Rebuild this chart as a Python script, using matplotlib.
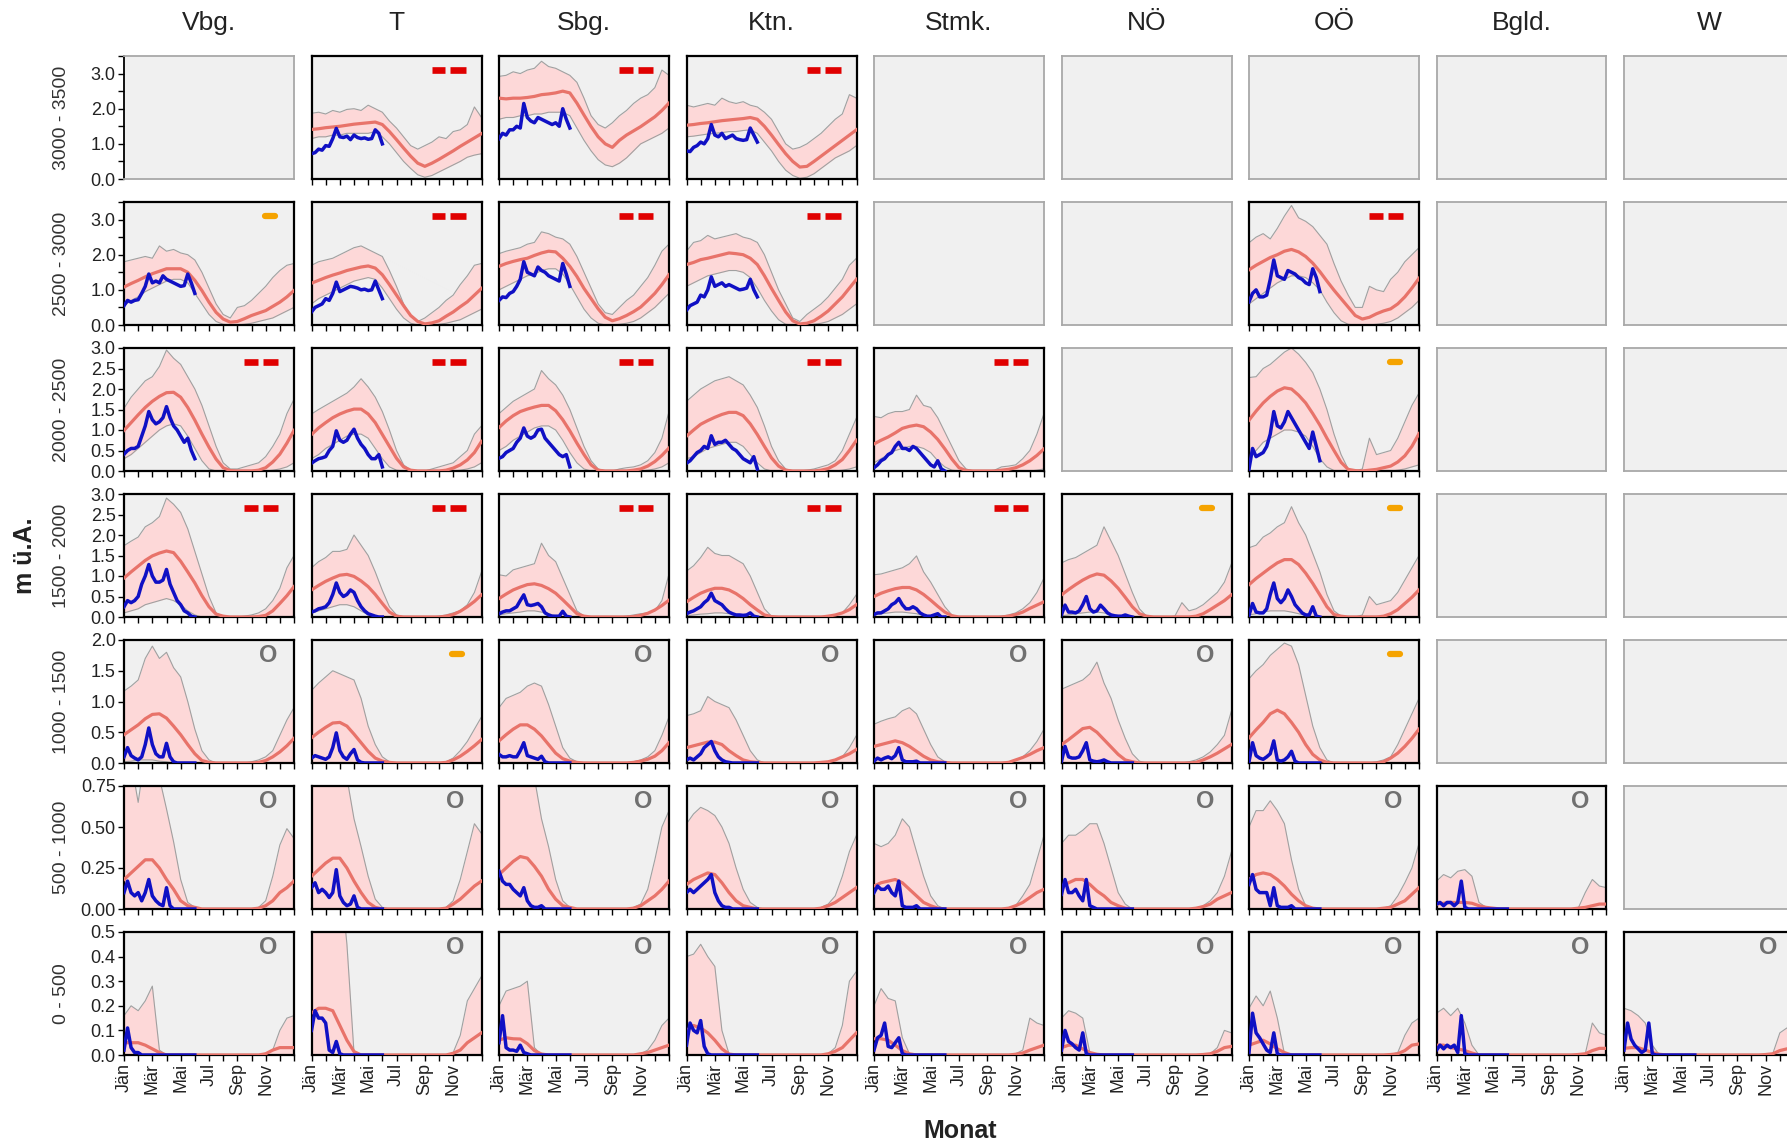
import numpy as np
import matplotlib
matplotlib.use('Agg')
import matplotlib.pyplot as plt

plt.rcParams['font.family'] = ['Liberation Sans', 'DejaVu Sans']

# ---------------- labels ----------------
REGIONS = ['Vbg.', 'T', 'Sbg.', 'Ktn.', 'Stmk.', 'NÖ', 'OÖ', 'Bgld.', 'W']
BANDS = ['3000 - 3500', '2500 - 3000', '2000 - 2500', '1500 - 2000',
         '1000 - 1500', '500 - 1000', '0 - 500']
MONTH_LABELS = ['Jän', '', 'Mär', '', 'Mai', '', 'Jul', '', 'Sep', '', 'Nov', '', '']
Y_MAX = [3.5, 3.5, 3.0, 3.0, 2.0, 0.75, 0.5]
Y_TICKS = [[0, 0.5, 1, 1.5, 2, 2.5, 3, 3.5],
           [0, 0.5, 1, 1.5, 2, 2.5, 3, 3.5],
           [0, 0.5, 1, 1.5, 2, 2.5, 3],
           [0, 0.5, 1, 1.5, 2, 2.5, 3],
           [0, 0.5, 1, 1.5, 2],
           [0, 0.25, 0.5, 0.75],
           [0, 0.1, 0.2, 0.3, 0.4, 0.5]]
Y_TICKLABELS = [['0.0', '', '1.0', '', '2.0', '', '3.0', ''],
                ['0.0', '', '1.0', '', '2.0', '', '3.0', ''],
                ['0.0', '0.5', '1.0', '1.5', '2.0', '2.5', '3.0'],
                ['0.0', '0.5', '1.0', '1.5', '2.0', '2.5', '3.0'],
                ['0.0', '0.5', '1.0', '1.5', '2.0'],
                ['0.00', '0.25', '0.50', '0.75'],
                ['0.0', '0.1', '0.2', '0.3', '0.4', '0.5']]

# status symbol per panel: r = two red bars, o = orange bar, n = grey "O"
STATUS = [
    ['', 'r', 'r', 'r', '', '', '', '', ''],
    ['o', 'r', 'r', 'r', '', '', 'r', '', ''],
    ['r', 'r', 'r', 'r', 'r', '', 'o', '', ''],
    ['r', 'r', 'r', 'r', 'r', 'o', 'o', '', ''],
    ['n', 'o', 'n', 'n', 'n', 'n', 'o', '', ''],
    ['n', 'n', 'n', 'n', 'n', 'n', 'n', 'n', ''],
    ['n', 'n', 'n', 'n', 'n', 'n', 'n', 'n', 'n'],
]

# time grids (months since 1 Jan): climatology every half month, current season weekly
XB = np.linspace(0, 12, 25)
XO = np.linspace(0, 5, 21)

ZERO = [0.0] * 25

# ---------------- row 1: 3000 - 3500 ----------------
t1_mean = [1.41,1.43,1.46,1.48,1.50,1.53,1.56,1.58,1.60,1.62,1.55,1.35,1.12,0.88,0.65,0.45,0.36,0.45,0.56,0.68,0.80,0.93,1.05,1.17,1.29]
t1_up = [1.87,1.90,1.85,1.95,1.90,1.98,2.00,1.95,2.10,2.00,1.90,1.65,1.45,1.20,0.95,0.85,0.95,1.05,1.20,1.15,1.35,1.40,1.55,2.05,1.75]
t1_lo = [1.15,1.20,1.20,1.25,1.25,1.30,1.30,1.30,1.30,1.35,1.20,1.00,0.75,0.50,0.30,0.12,0.05,0.10,0.20,0.30,0.40,0.50,0.62,0.68,0.72]
t1_obs = [0.72,0.75,0.85,0.82,0.95,0.93,1.15,1.44,1.20,1.18,1.22,1.12,1.25,1.18,1.15,1.17,1.13,1.15,1.40,1.30,1.00]

sbg1_mean = [2.30,2.28,2.30,2.30,2.32,2.35,2.40,2.42,2.45,2.50,2.45,2.16,1.82,1.49,1.20,1.00,0.90,1.10,1.25,1.37,1.49,1.63,1.77,1.95,2.16]
sbg1_up = [2.92,2.95,3.05,3.00,3.10,3.15,3.35,3.20,3.15,3.05,2.95,2.75,2.30,1.80,1.55,1.45,1.60,1.80,1.95,2.15,2.30,2.40,2.60,3.10,2.95]
sbg1_lo = [1.70,1.75,1.75,1.80,1.80,1.85,1.85,1.90,1.90,1.90,1.80,1.45,1.10,0.80,0.55,0.40,0.35,0.45,0.60,0.80,1.00,1.10,1.20,1.30,1.45]
sbg1_obs = [1.15,1.30,1.25,1.40,1.40,1.50,1.45,2.15,1.75,1.65,1.60,1.75,1.70,1.65,1.60,1.55,1.60,1.50,2.00,1.70,1.45]

ktn1_mean = [1.53,1.55,1.58,1.60,1.63,1.66,1.68,1.70,1.72,1.75,1.70,1.50,1.25,0.98,0.72,0.50,0.34,0.36,0.50,0.65,0.80,0.95,1.10,1.25,1.40]
ktn1_up = [2.10,2.05,2.10,2.15,2.10,2.30,2.20,2.15,2.20,2.10,2.05,1.90,1.70,1.35,1.00,0.85,0.90,1.00,1.15,1.30,1.50,1.70,1.85,2.40,2.30]
ktn1_lo = [1.20,1.22,1.25,1.28,1.30,1.32,1.35,1.35,1.38,1.40,1.30,1.05,0.80,0.50,0.25,0.10,0.02,0.05,0.15,0.30,0.45,0.60,0.70,0.80,0.95]
ktn1_obs = [0.80,0.78,0.90,0.95,1.05,1.00,1.15,1.55,1.25,1.20,1.30,1.15,1.20,1.25,1.15,1.12,1.10,1.12,1.45,1.25,1.05]

# ---------------- row 2: 2500 - 3000 ----------------
vbg2_mean = [1.08,1.18,1.27,1.37,1.46,1.53,1.60,1.60,1.60,1.50,1.27,0.98,0.65,0.36,0.17,0.08,0.10,0.18,0.27,0.34,0.41,0.53,0.65,0.80,0.98]
vbg2_up = [1.80,1.85,1.90,1.95,1.90,2.25,2.10,2.15,2.05,2.00,1.85,1.50,1.05,0.60,0.30,0.20,0.50,0.55,0.70,0.90,1.10,1.35,1.55,1.70,1.75]
vbg2_lo = [0.55,0.70,0.80,0.95,1.05,1.15,1.25,1.30,1.30,1.20,0.90,0.60,0.30,0.10,0.02,0.00,0.00,0.02,0.05,0.10,0.15,0.20,0.30,0.40,0.50]
vbg2_obs = [0.55,0.70,0.65,0.70,0.72,0.90,1.10,1.45,1.20,1.25,1.20,1.40,1.30,1.25,1.20,1.15,1.10,1.12,1.45,1.20,0.90]

t2_mean = [1.19,1.27,1.35,1.42,1.48,1.55,1.60,1.65,1.68,1.62,1.43,1.15,0.85,0.55,0.27,0.10,0.03,0.06,0.12,0.25,0.37,0.52,0.66,0.85,1.04]
t2_up = [1.70,1.80,1.85,1.90,2.00,2.10,2.20,2.25,2.15,2.05,1.95,1.55,1.10,0.60,0.25,0.10,0.20,0.35,0.50,0.70,0.85,1.15,1.40,1.70,1.75]
t2_lo = [0.60,0.75,0.85,0.95,1.05,1.15,1.25,1.30,1.35,1.30,1.05,0.75,0.45,0.20,0.05,0,0,0,0.02,0.05,0.10,0.15,0.25,0.35,0.45]
t2_obs = [0.37,0.50,0.55,0.60,0.75,0.70,0.90,1.22,0.95,1.00,1.05,1.10,1.08,1.05,1.00,1.02,0.98,1.00,1.25,1.00,0.75]

sbg2_mean = [1.67,1.75,1.81,1.86,1.90,1.98,2.05,2.10,2.08,1.90,1.67,1.38,1.04,0.75,0.46,0.22,0.12,0.18,0.27,0.38,0.51,0.70,0.90,1.15,1.43]
sbg2_up = [2.03,2.10,2.15,2.20,2.30,2.35,2.65,2.60,2.50,2.45,2.30,1.95,1.50,1.05,0.60,0.35,0.30,0.50,0.70,0.85,1.10,1.35,1.70,2.10,2.30]
sbg2_lo = [1.00,1.10,1.20,1.30,1.40,1.45,1.55,1.60,1.60,1.45,1.15,0.80,0.45,0.20,0.05,0,0,0.02,0.05,0.10,0.20,0.35,0.50,0.70,0.90]
sbg2_obs = [0.70,0.80,0.78,0.90,0.95,1.10,1.30,1.80,1.50,1.45,1.40,1.65,1.55,1.50,1.40,1.35,1.30,1.25,1.75,1.45,1.10]

ktn2_mean = [1.72,1.78,1.86,1.90,1.95,2.00,2.05,2.03,2.00,1.90,1.72,1.40,1.04,0.70,0.37,0.12,0.03,0.05,0.12,0.25,0.40,0.60,0.80,1.05,1.30]
ktn2_up = [2.10,2.35,2.40,2.55,2.45,2.50,2.55,2.60,2.50,2.45,2.35,2.00,1.50,1.00,0.60,0.20,0.10,0.30,0.45,0.60,0.80,1.05,1.30,1.70,1.90]
ktn2_lo = [1.10,1.20,1.30,1.40,1.45,1.50,1.55,1.55,1.50,1.35,1.05,0.70,0.40,0.15,0.02,0,0,0,0.02,0.05,0.10,0.20,0.30,0.45,0.60]
ktn2_obs = [0.42,0.55,0.60,0.65,0.85,0.80,1.00,1.37,1.10,1.15,1.20,1.10,1.15,1.10,1.05,1.00,1.02,1.05,1.30,1.00,0.80]

ooe2_mean = [1.57,1.70,1.81,1.92,2.00,2.10,2.15,2.08,1.95,1.76,1.52,1.25,0.99,0.75,0.51,0.27,0.17,0.22,0.32,0.40,0.46,0.60,0.80,1.05,1.33]
ooe2_up = [2.34,2.50,2.60,2.45,2.75,3.10,3.40,3.05,2.95,2.80,2.55,2.30,1.75,1.25,0.85,0.50,0.50,1.10,1.00,0.95,1.30,1.50,1.80,2.00,2.20]
ooe2_lo = [0.60,0.75,0.90,1.05,1.20,1.30,1.40,1.40,1.35,1.20,1.00,0.65,0.35,0.12,0.02,0,0,0,0.02,0.05,0.10,0.20,0.35,0.50,0.70]
ooe2_obs = [0.66,0.90,1.00,0.80,0.80,0.85,1.30,1.85,1.40,1.35,1.30,1.55,1.50,1.45,1.35,1.30,1.20,1.15,1.60,1.35,0.95]

# ---------------- row 3: 2000 - 2500 ----------------
vbg3_mean = [0.99,1.18,1.37,1.55,1.70,1.82,1.91,1.92,1.80,1.55,1.24,0.90,0.58,0.29,0.08,0.01,0,0,0,0.02,0.08,0.22,0.41,0.68,0.99]
vbg3_up = [1.53,1.80,2.00,2.20,2.30,2.55,2.95,2.75,2.60,2.30,2.00,1.60,1.10,0.60,0.20,0.05,0.05,0.10,0.15,0.20,0.35,0.60,0.90,1.40,1.75]
vbg3_lo = [0.30,0.40,0.55,0.70,0.85,1.00,1.10,1.15,1.10,0.85,0.55,0.25,0.05,0,0,0,0,0,0,0,0,0.02,0.05,0.10,0.20]
vbg3_obs = [0.41,0.50,0.55,0.55,0.60,0.85,1.10,1.45,1.25,1.15,1.20,1.30,1.57,1.30,1.10,1.00,0.85,0.70,0.80,0.50,0.30]

t3_mean = [0.89,1.05,1.18,1.30,1.39,1.46,1.51,1.51,1.39,1.18,0.89,0.60,0.31,0.10,0.02,0,0,0,0,0.02,0.07,0.15,0.27,0.45,0.72]
t3_up = [1.39,1.50,1.60,1.70,1.80,1.90,2.05,2.25,2.05,1.80,1.45,1.00,0.50,0.15,0.02,0,0,0.05,0.10,0.15,0.20,0.35,0.50,0.90,1.10]
t3_lo = [0.30,0.40,0.55,0.65,0.75,0.85,0.90,0.90,0.80,0.55,0.30,0.10,0.02,0,0,0,0,0,0,0,0,0.02,0.05,0.10,0.20]
t3_obs = [0.19,0.25,0.30,0.32,0.35,0.50,0.60,0.98,0.75,0.70,0.75,0.90,1.02,0.80,0.65,0.55,0.40,0.30,0.30,0.40,0.10]

sbg3_mean = [1.06,1.22,1.35,1.45,1.51,1.56,1.60,1.60,1.47,1.25,0.98,0.68,0.40,0.15,0.02,0,0,0,0,0.02,0.05,0.12,0.23,0.38,0.56]
sbg3_up = [1.40,1.55,1.70,1.80,1.90,2.00,2.45,2.25,2.10,1.85,1.50,1.05,0.60,0.25,0.05,0,0,0.05,0.08,0.10,0.15,0.25,0.45,0.80,1.45]
sbg3_lo = [0.50,0.60,0.75,0.85,0.95,1.05,1.10,1.10,1.00,0.75,0.45,0.20,0.05,0,0,0,0,0,0,0,0,0.02,0.05,0.10,0.20]
sbg3_obs = [0.31,0.35,0.45,0.50,0.55,0.70,0.80,1.05,0.85,0.80,0.85,1.00,1.02,0.80,0.70,0.60,0.50,0.40,0.35,0.40,0.10]

ktn3_mean = [0.85,1.00,1.14,1.23,1.31,1.38,1.43,1.43,1.35,1.15,0.89,0.60,0.32,0.12,0.02,0,0,0,0,0.02,0.06,0.15,0.28,0.50,0.75]
ktn3_up = [1.70,1.85,2.00,2.10,2.20,2.25,2.30,2.20,2.10,1.85,1.55,1.10,0.60,0.25,0.05,0,0,0.02,0.05,0.10,0.15,0.25,0.50,0.90,1.30]
ktn3_lo = [0.30,0.35,0.45,0.55,0.60,0.65,0.70,0.70,0.60,0.40,0.20,0.05,0,0,0,0,0,0,0,0,0,0,0.02,0.05,0.10]
ktn3_obs = [0.19,0.25,0.35,0.45,0.50,0.60,0.55,0.86,0.65,0.70,0.70,0.75,0.65,0.55,0.50,0.40,0.30,0.25,0.20,0.35,0.05]

stmk3_mean = [0.66,0.75,0.83,0.93,1.04,1.09,1.12,1.08,0.95,0.77,0.54,0.29,0.08,0.01,0,0,0,0,0.02,0.04,0.08,0.15,0.25,0.38,0.54]
stmk3_up = [1.33,1.30,1.40,1.45,1.45,1.50,1.85,1.60,1.55,1.30,0.95,0.60,0.25,0.05,0,0,0,0.02,0.10,0.12,0.15,0.30,0.50,0.90,1.40]
stmk3_lo = [0.20,0.30,0.40,0.50,0.55,0.60,0.60,0.55,0.45,0.25,0.10,0.02,0,0,0,0,0,0,0,0,0,0,0,0.02,0.05]
stmk3_obs = [0.08,0.15,0.25,0.30,0.40,0.45,0.60,0.70,0.55,0.55,0.50,0.60,0.55,0.45,0.35,0.25,0.15,0.10,0.25,0.05,0]

ooe3_mean = [1.24,1.46,1.66,1.82,1.95,2.03,2.00,1.85,1.66,1.40,1.12,0.80,0.50,0.21,0.04,0.01,0,0.02,0.04,0.08,0.12,0.22,0.37,0.60,0.91]
ooe3_up = [2.28,2.30,2.50,2.60,2.75,2.90,3.00,2.85,2.65,2.40,2.00,1.50,0.90,0.40,0.05,0,0.05,0.80,0.40,0.45,0.50,0.80,1.20,1.60,1.90]
ooe3_lo = [0.35,0.50,0.70,0.80,0.90,1.00,1.00,0.95,0.85,0.60,0.30,0.10,0.01,0,0,0,0,0,0,0,0,0.02,0.05,0.10,0.15]
ooe3_obs = [0.05,0.55,0.35,0.40,0.45,0.60,0.90,1.45,1.10,1.05,1.20,1.45,1.30,1.15,1.00,0.85,0.70,0.55,0.95,0.60,0.25]

# ---------------- row 4: 1500 - 2000 ----------------
vbg4_mean = [0.95,1.10,1.24,1.38,1.49,1.56,1.61,1.57,1.36,1.10,0.83,0.52,0.25,0.07,0.02,0,0,0,0,0.01,0.04,0.15,0.33,0.52,0.74]
vbg4_up = [1.74,1.85,1.95,2.20,2.30,2.45,2.90,2.75,2.55,2.15,1.60,1.05,0.50,0.10,0.02,0,0,0.02,0.05,0.10,0.20,0.40,0.70,1.20,1.50]
vbg4_lo = [0.10,0.15,0.20,0.30,0.35,0.40,0.45,0.40,0.30,0.15,0.05,0,0,0,0,0,0,0,0,0,0,0,0,0,0.02]
vbg4_obs = [0.25,0.40,0.35,0.40,0.50,0.80,1.00,1.28,1.00,0.85,0.85,0.90,1.16,0.80,0.60,0.40,0.30,0.15,0.10,0.02,0]

t4_mean = [0.66,0.77,0.87,0.95,1.02,1.04,0.99,0.88,0.74,0.55,0.33,0.12,0.02,0,0,0,0,0,0,0.02,0.06,0.14,0.25,0.38,0.54]
t4_up = [1.20,1.35,1.45,1.60,1.60,1.65,2.00,1.75,1.50,1.10,0.65,0.25,0.05,0,0,0,0,0,0.02,0.05,0.10,0.15,0.30,0.60,1.10]
t4_lo = [0.10,0.15,0.20,0.25,0.30,0.30,0.25,0.15,0.05,0,0,0,0,0,0,0,0,0,0,0,0,0,0,0,0]
t4_obs = [0.12,0.15,0.20,0.22,0.25,0.35,0.55,0.83,0.60,0.50,0.55,0.66,0.60,0.40,0.25,0.15,0.08,0.05,0.02,0,0]

sbg4_mean = [0.45,0.56,0.66,0.73,0.79,0.81,0.77,0.69,0.58,0.42,0.25,0.08,0.02,0,0,0,0,0,0,0.01,0.04,0.09,0.17,0.28,0.41]
sbg4_up = [1.03,1.00,1.15,1.20,1.25,1.30,1.80,1.50,1.35,0.95,0.55,0.15,0.02,0,0,0,0,0,0.02,0.05,0.08,0.10,0.15,0.40,1.05]
sbg4_lo = [0.05,0.08,0.10,0.12,0.15,0.15,0.12,0.08,0.03,0,0,0,0,0,0,0,0,0,0,0,0,0,0,0,0]
sbg4_obs = [0.08,0.12,0.15,0.15,0.20,0.25,0.40,0.54,0.30,0.28,0.30,0.33,0.25,0.10,0.05,0.02,0.02,0.02,0.14,0.02,0]

ktn4_mean = [0.37,0.48,0.58,0.65,0.70,0.70,0.66,0.57,0.45,0.30,0.17,0.05,0.01,0,0,0,0,0,0,0,0.02,0.05,0.10,0.18,0.30]
ktn4_up = [1.12,1.25,1.45,1.70,1.55,1.50,1.50,1.40,1.30,1.00,0.60,0.20,0.02,0,0,0,0,0,0,0,0.02,0.05,0.10,0.30,0.55]
ktn4_lo = [0.03,0.05,0.07,0.08,0.10,0.10,0.08,0.05,0.02,0,0,0,0,0,0,0,0,0,0,0,0,0,0,0,0]
ktn4_obs = [0.08,0.12,0.15,0.20,0.25,0.35,0.42,0.58,0.40,0.35,0.30,0.20,0.12,0.08,0.05,0.05,0.04,0.05,0.10,0.02,0]

stmk4_mean = [0.50,0.58,0.64,0.69,0.72,0.72,0.66,0.55,0.41,0.26,0.12,0.03,0,0,0,0,0,0,0,0.02,0.06,0.12,0.21,0.29,0.37]
stmk4_up = [1.03,1.05,1.10,1.15,1.20,1.30,1.49,1.10,0.85,0.55,0.25,0.05,0,0,0,0,0,0,0.02,0.05,0.10,0.20,0.35,0.60,0.95]
stmk4_lo = [0.05,0.08,0.10,0.12,0.12,0.10,0.08,0.04,0.01,0,0,0,0,0,0,0,0,0,0,0,0,0,0,0,0]
stmk4_obs = [0.06,0.10,0.10,0.15,0.20,0.30,0.35,0.45,0.30,0.20,0.20,0.25,0.20,0.10,0.05,0.02,0.02,0.05,0.08,0,0]

noe4_mean = [0.54,0.67,0.79,0.90,0.99,1.05,1.02,0.88,0.70,0.48,0.25,0.08,0.02,0,0,0,0,0,0,0.02,0.08,0.18,0.29,0.40,0.54]
noe4_up = [1.32,1.40,1.45,1.55,1.65,1.75,2.20,1.85,1.50,1.05,0.60,0.20,0.02,0,0,0,0.02,0.35,0.15,0.20,0.30,0.45,0.60,0.85,1.30]
noe4_lo = [0.03,0.05,0.08,0.10,0.12,0.12,0.10,0.05,0.02,0,0,0,0,0,0,0,0,0,0,0,0,0,0,0,0]
noe4_obs = [0.06,0.29,0.12,0.12,0.10,0.15,0.30,0.50,0.20,0.12,0.15,0.29,0.20,0.10,0.05,0.03,0.02,0.02,0.05,0.02,0]

ooe4_mean = [0.79,0.94,1.07,1.20,1.32,1.40,1.40,1.28,1.07,0.82,0.54,0.25,0.06,0.02,0,0,0,0,0,0.02,0.08,0.18,0.33,0.48,0.66]
ooe4_up = [1.69,1.75,1.95,2.05,2.20,2.30,2.69,2.30,2.00,1.55,1.10,0.55,0.15,0.02,0,0,0.05,0.50,0.30,0.35,0.40,0.60,0.90,1.20,1.50]
ooe4_lo = [0.05,0.08,0.12,0.15,0.15,0.15,0.12,0.08,0.04,0,0,0,0,0,0,0,0,0,0,0,0,0,0,0,0]
ooe4_obs = [0.04,0.33,0.12,0.10,0.10,0.20,0.55,0.83,0.45,0.35,0.45,0.66,0.50,0.30,0.20,0.10,0.05,0.05,0.25,0.02,0]

# ---------------- row 5: 1000 - 1500 ----------------
vbg5_mean = [0.46,0.54,0.62,0.72,0.79,0.80,0.73,0.60,0.46,0.30,0.15,0.04,0.01,0,0,0,0,0,0,0.01,0.04,0.10,0.18,0.28,0.40]
vbg5_up = [1.17,1.25,1.35,1.70,1.90,1.70,1.80,1.55,1.40,1.00,0.55,0.20,0.05,0,0,0,0,0,0.02,0.05,0.10,0.20,0.45,0.70,0.90]
vbg5_lo = [0.02,0.03,0.05,0.05,0.05,0.03,0.02,0,0,0,0,0,0,0,0,0,0,0,0,0,0,0,0,0,0]
vbg5_obs = [0.10,0.25,0.12,0.08,0.05,0.10,0.30,0.57,0.30,0.15,0.10,0.10,0.32,0.10,0.02,0,0,0,0,0,0]

t5_mean = [0.41,0.50,0.58,0.65,0.66,0.60,0.47,0.33,0.19,0.08,0.03,0.01,0,0,0,0,0,0,0,0.01,0.05,0.11,0.19,0.28,0.38]
t5_up = [1.18,1.30,1.40,1.50,1.45,1.40,1.35,1.05,0.60,0.30,0.10,0.02,0,0,0,0,0,0,0,0.02,0.08,0.20,0.35,0.55,0.75]
t5_obs = [0.08,0.12,0.10,0.08,0.06,0.10,0.25,0.49,0.20,0.10,0.06,0.15,0.22,0.05,0.01,0,0,0,0,0,0]

sbg5_mean = [0.36,0.46,0.55,0.62,0.62,0.55,0.44,0.30,0.16,0.07,0.03,0.01,0,0,0,0,0,0,0,0.01,0.03,0.06,0.11,0.20,0.33]
sbg5_up = [0.90,1.05,1.10,1.15,1.25,1.30,1.25,0.95,0.60,0.25,0.08,0.02,0,0,0,0,0,0,0,0.02,0.05,0.10,0.20,0.45,0.75]
sbg5_obs = [0.14,0.10,0.10,0.12,0.10,0.10,0.20,0.33,0.12,0.10,0.08,0.06,0.11,0.02,0,0,0,0,0,0,0]

ktn5_mean = [0.25,0.28,0.31,0.34,0.34,0.30,0.20,0.12,0.05,0.02,0.01,0,0,0,0,0,0,0,0,0.01,0.02,0.05,0.10,0.15,0.22]
ktn5_up = [0.77,0.80,0.85,1.08,1.00,0.95,0.90,0.70,0.45,0.20,0.05,0,0,0,0,0,0,0,0,0,0.02,0.05,0.10,0.25,0.45]
ktn5_obs = [0.05,0.08,0.05,0.10,0.15,0.25,0.30,0.35,0.20,0.10,0.05,0.02,0.01,0,0,0,0,0,0,0,0]

stmk5_mean = [0.27,0.30,0.33,0.36,0.33,0.27,0.19,0.11,0.05,0.02,0.01,0,0,0,0,0,0,0,0,0.01,0.05,0.09,0.14,0.20,0.25]
stmk5_up = [0.63,0.68,0.72,0.75,0.85,0.90,0.80,0.55,0.30,0.10,0.02,0,0,0,0,0,0,0,0,0,0.05,0.10,0.20,0.35,0.55]
stmk5_obs = [0.03,0.08,0.05,0.08,0.10,0.07,0.12,0.25,0.05,0.02,0.02,0.02,0.03,0,0,0,0,0,0,0,0]

noe5_mean = [0.30,0.38,0.47,0.56,0.58,0.50,0.38,0.26,0.14,0.05,0.02,0,0,0,0,0,0,0,0,0.01,0.05,0.10,0.16,0.23,0.30]
noe5_up = [1.20,1.25,1.30,1.35,1.45,1.64,1.30,1.05,0.70,0.40,0.15,0.03,0,0,0,0,0,0,0.02,0.05,0.10,0.18,0.30,0.45,0.85]
noe5_obs = [0.03,0.27,0.10,0.08,0.08,0.10,0.20,0.33,0.05,0.03,0.02,0.03,0.05,0.02,0,0,0,0,0,0,0]

ooe5_mean = [0.41,0.54,0.66,0.80,0.86,0.80,0.66,0.50,0.30,0.14,0.05,0.01,0,0,0,0,0,0,0,0.02,0.08,0.16,0.27,0.40,0.55]
ooe5_up = [1.37,1.50,1.60,1.75,1.85,1.95,1.90,1.60,1.10,0.60,0.25,0.05,0,0,0,0,0,0,0.02,0.05,0.10,0.30,0.55,0.80,1.05]
ooe5_obs = [0.02,0.33,0.12,0.08,0.06,0.10,0.15,0.36,0.05,0.03,0.05,0.10,0.19,0.03,0,0,0,0,0,0,0]

# ---------------- row 6: 500 - 1000 ----------------
vbg6_mean = [0.18,0.22,0.26,0.30,0.30,0.25,0.18,0.12,0.05,0.02,0.01,0,0,0,0,0,0,0,0,0.005,0.02,0.05,0.10,0.13,0.17]
vbg6_up = [0.80,0.90,0.65,0.95,1.00,0.80,0.61,0.41,0.18,0.04,0.01,0,0,0,0,0,0,0,0,0.01,0.05,0.20,0.39,0.49,0.43]
vbg6_obs = [0.10,0.17,0.10,0.08,0.10,0.05,0.10,0.18,0.08,0.05,0.03,0.02,0.13,0.02,0,0,0,0,0,0,0]

t6_mean = [0.20,0.24,0.28,0.31,0.31,0.25,0.17,0.10,0.04,0.01,0,0,0,0,0,0,0,0,0,0.005,0.03,0.06,0.10,0.14,0.17]
t6_up = [0.80,0.90,1.00,1.00,0.95,0.80,0.55,0.38,0.20,0.06,0.01,0,0,0,0,0,0,0,0,0.01,0.05,0.18,0.35,0.52,0.46]
t6_obs = [0.13,0.16,0.10,0.12,0.10,0.07,0.10,0.24,0.08,0.04,0.02,0.03,0.08,0.01,0,0,0,0,0,0,0]

sbg6_mean = [0.21,0.25,0.29,0.32,0.31,0.26,0.20,0.12,0.06,0.02,0.01,0,0,0,0,0,0,0,0,0.005,0.02,0.05,0.08,0.12,0.17]
sbg6_up = [0.85,0.95,1.00,1.00,0.95,0.80,0.55,0.38,0.18,0.05,0.01,0,0,0,0,0,0,0,0,0.01,0.03,0.12,0.30,0.50,0.60]
sbg6_obs = [0.23,0.17,0.15,0.15,0.12,0.10,0.08,0.13,0.05,0.02,0.01,0.01,0.02,0,0,0,0,0,0,0,0]

ktn6_mean = [0.15,0.18,0.20,0.22,0.21,0.16,0.10,0.05,0.02,0.01,0,0,0,0,0,0,0,0,0,0.005,0.02,0.04,0.07,0.10,0.13]
ktn6_up = [0.52,0.58,0.62,0.60,0.57,0.50,0.40,0.25,0.12,0.04,0.01,0,0,0,0,0,0,0,0,0.01,0.03,0.08,0.20,0.35,0.45]
ktn6_obs = [0.10,0.12,0.10,0.12,0.14,0.16,0.18,0.21,0.10,0.05,0.02,0.01,0.01,0,0,0,0,0,0,0,0]

stmk6_mean = [0.14,0.16,0.17,0.18,0.16,0.12,0.08,0.04,0.02,0.005,0,0,0,0,0,0,0,0,0,0.005,0.02,0.04,0.07,0.10,0.12]
stmk6_up = [0.40,0.38,0.40,0.45,0.55,0.50,0.35,0.20,0.08,0.02,0,0,0,0,0,0,0,0,0,0,0.02,0.08,0.15,0.30,0.45]
stmk6_obs = [0.10,0.14,0.12,0.12,0.14,0.10,0.08,0.17,0.02,0.01,0.01,0.01,0.02,0,0,0,0,0,0,0,0]

noe6_mean = [0.14,0.16,0.18,0.18,0.15,0.11,0.08,0.04,0.02,0.005,0,0,0,0,0,0,0,0,0,0.005,0.015,0.03,0.06,0.08,0.10]
noe6_up = [0.40,0.45,0.45,0.48,0.52,0.52,0.40,0.25,0.10,0.03,0,0,0,0,0,0,0,0,0,0,0.02,0.05,0.10,0.20,0.35]
noe6_obs = [0.09,0.18,0.10,0.10,0.12,0.08,0.05,0.18,0.02,0.01,0,0,0,0,0,0,0,0,0,0,0]

ooe6_mean = [0.18,0.21,0.22,0.21,0.18,0.14,0.09,0.05,0.02,0.005,0,0,0,0,0,0,0,0,0,0.005,0.01,0.03,0.05,0.09,0.13]
ooe6_up = [0.50,0.60,0.60,0.66,0.60,0.52,0.30,0.12,0.02,0.005,0,0,0,0,0,0,0,0,0,0.005,0.02,0.08,0.16,0.25,0.40]
ooe6_obs = [0.15,0.21,0.12,0.10,0.10,0.10,0.02,0.13,0.02,0.01,0.01,0.01,0.02,0,0,0,0,0,0,0,0]

bgld6_mean = [0.03,0.035,0.04,0.04,0.04,0.035,0.02,0.01,0.005,0,0,0,0,0,0,0,0,0,0,0,0.005,0.01,0.02,0.03,0.03]
bgld6_up = [0.17,0.21,0.19,0.23,0.24,0.20,0.04,0.01,0,0,0,0,0,0,0,0,0,0,0,0,0.005,0.10,0.18,0.14,0.13]
bgld6_obs = [0.03,0.04,0.02,0.04,0.04,0.02,0.04,0.17,0.01,0,0,0,0,0,0,0,0,0,0,0,0]

# ---------------- row 7: 0 - 500 ----------------
vbg7_mean = [0.05,0.05,0.05,0.04,0.025,0.01,0,0,0,0,0,0,0,0,0,0,0,0,0,0,0.005,0.02,0.03,0.03,0.03]
vbg7_up = [0.16,0.20,0.18,0.22,0.28,0.02,0,0,0,0,0,0,0,0,0,0,0,0,0,0,0.005,0.02,0.10,0.15,0.16]
vbg7_obs = [0.02,0.11,0.03,0.01,0.01,0,0,0,0,0,0,0,0,0,0,0,0,0,0,0,0]

t7_mean = [0.17,0.19,0.19,0.18,0.12,0.06,0.014,0,0,0,0,0,0,0,0,0,0,0,0,0,0.007,0.02,0.05,0.07,0.09]
t7_up = [0.80,0.90,0.95,0.90,0.75,0.45,0.01,0,0,0,0,0,0,0,0,0,0,0,0,0,0.01,0.08,0.22,0.27,0.32]
t7_obs = [0.10,0.18,0.15,0.15,0.13,0.02,0.01,0.055,0.005,0,0,0,0,0,0,0,0,0,0,0,0]

sbg7_mean = [0.06,0.07,0.066,0.065,0.046,0.018,0.004,0,0,0,0,0,0,0,0,0,0,0,0,0,0.005,0.01,0.02,0.03,0.04]
sbg7_up = [0.20,0.26,0.27,0.28,0.30,0.03,0,0,0,0,0,0,0,0,0,0,0,0,0,0,0.005,0.02,0.06,0.12,0.15]
sbg7_obs = [0.05,0.16,0.03,0.02,0.02,0.015,0.04,0.01,0.005,0,0,0,0,0,0,0,0,0,0,0,0]

ktn7_mean = [0.10,0.12,0.11,0.09,0.06,0.025,0.004,0,0,0,0,0,0,0,0,0,0,0,0,0,0.005,0.015,0.03,0.06,0.09]
ktn7_up = [0.40,0.41,0.45,0.40,0.36,0.10,0.005,0,0,0,0,0,0,0,0,0,0,0,0,0,0.005,0.03,0.12,0.30,0.34]
ktn7_obs = [0.04,0.13,0.10,0.09,0.14,0.035,0.005,0,0,0,0,0,0,0,0,0,0,0,0,0,0]

stmk7_mean = [0.066,0.066,0.06,0.04,0.018,0.005,0,0,0,0,0,0,0,0,0,0,0,0,0,0,0.003,0.008,0.02,0.03,0.04]
stmk7_up = [0.20,0.27,0.23,0.22,0.07,0.005,0,0,0,0,0,0,0,0,0,0,0,0,0,0,0.005,0.02,0.15,0.13,0.12]
stmk7_obs = [0.02,0.07,0.08,0.13,0.035,0.03,0.05,0.07,0.005,0,0,0,0,0,0,0,0,0,0,0,0]

noe7_mean = [0.03,0.04,0.04,0.025,0.01,0.003,0,0,0,0,0,0,0,0,0,0,0,0,0,0,0.002,0.005,0.015,0.03,0.035]
noe7_up = [0.15,0.18,0.17,0.15,0.01,0,0,0,0,0,0,0,0,0,0,0,0,0,0,0,0.002,0.005,0.03,0.10,0.09]
noe7_obs = [0.02,0.10,0.055,0.045,0.03,0.02,0.09,0.005,0,0,0,0,0,0,0,0,0,0,0,0,0]

ooe7_mean = [0.04,0.05,0.06,0.045,0.025,0.01,0,0,0,0,0,0,0,0,0,0,0,0,0,0,0.002,0.005,0.018,0.04,0.045]
ooe7_up = [0.19,0.24,0.20,0.26,0.15,0.005,0,0,0,0,0,0,0,0,0,0,0,0,0,0,0.002,0.01,0.08,0.13,0.15]
ooe7_obs = [0.01,0.17,0.09,0.07,0.045,0.02,0.01,0.09,0.005,0,0,0,0,0,0,0,0,0,0,0,0]

bgld7_mean = [0.04,0.04,0.03,0.025,0.018,0.008,0,0,0,0,0,0,0,0,0,0,0,0,0,0,0.002,0.005,0.018,0.027,0.027]
bgld7_up = [0.17,0.19,0.16,0.19,0.13,0.04,0,0,0,0,0,0,0,0,0,0,0,0,0,0,0.002,0.005,0.13,0.09,0.08]
bgld7_obs = [0.02,0.04,0.025,0.04,0.03,0.04,0.01,0.16,0.005,0,0,0,0,0,0,0,0,0,0,0,0]

w7_mean = [0.027,0.03,0.03,0.02,0.01,0.003,0,0,0,0,0,0,0,0,0,0,0,0,0,0,0.002,0.005,0.018,0.025,0.025]
w7_up = [0.19,0.18,0.16,0.13,0.04,0,0,0,0,0,0,0,0,0,0,0,0,0,0,0,0.002,0.005,0.09,0.11,0.10]
w7_obs = [0.02,0.13,0.065,0.04,0.025,0.01,0.02,0.13,0.005,0,0,0,0,0,0,0,0,0,0,0,0]

# (row, column) -> (mean, maximum, minimum, current season)
PANELS = {
    (0, 1): (t1_mean, t1_up, t1_lo, t1_obs),
    (0, 2): (sbg1_mean, sbg1_up, sbg1_lo, sbg1_obs),
    (0, 3): (ktn1_mean, ktn1_up, ktn1_lo, ktn1_obs),
    (1, 0): (vbg2_mean, vbg2_up, vbg2_lo, vbg2_obs),
    (1, 1): (t2_mean, t2_up, t2_lo, t2_obs),
    (1, 2): (sbg2_mean, sbg2_up, sbg2_lo, sbg2_obs),
    (1, 3): (ktn2_mean, ktn2_up, ktn2_lo, ktn2_obs),
    (1, 6): (ooe2_mean, ooe2_up, ooe2_lo, ooe2_obs),
    (2, 0): (vbg3_mean, vbg3_up, vbg3_lo, vbg3_obs),
    (2, 1): (t3_mean, t3_up, t3_lo, t3_obs),
    (2, 2): (sbg3_mean, sbg3_up, sbg3_lo, sbg3_obs),
    (2, 3): (ktn3_mean, ktn3_up, ktn3_lo, ktn3_obs),
    (2, 4): (stmk3_mean, stmk3_up, stmk3_lo, stmk3_obs),
    (2, 6): (ooe3_mean, ooe3_up, ooe3_lo, ooe3_obs),
    (3, 0): (vbg4_mean, vbg4_up, vbg4_lo, vbg4_obs),
    (3, 1): (t4_mean, t4_up, t4_lo, t4_obs),
    (3, 2): (sbg4_mean, sbg4_up, sbg4_lo, sbg4_obs),
    (3, 3): (ktn4_mean, ktn4_up, ktn4_lo, ktn4_obs),
    (3, 4): (stmk4_mean, stmk4_up, stmk4_lo, stmk4_obs),
    (3, 5): (noe4_mean, noe4_up, noe4_lo, noe4_obs),
    (3, 6): (ooe4_mean, ooe4_up, ooe4_lo, ooe4_obs),
    (4, 0): (vbg5_mean, vbg5_up, vbg5_lo, vbg5_obs),
    (4, 1): (t5_mean, t5_up, ZERO, t5_obs),
    (4, 2): (sbg5_mean, sbg5_up, ZERO, sbg5_obs),
    (4, 3): (ktn5_mean, ktn5_up, ZERO, ktn5_obs),
    (4, 4): (stmk5_mean, stmk5_up, ZERO, stmk5_obs),
    (4, 5): (noe5_mean, noe5_up, ZERO, noe5_obs),
    (4, 6): (ooe5_mean, ooe5_up, ZERO, ooe5_obs),
    (5, 0): (vbg6_mean, vbg6_up, ZERO, vbg6_obs),
    (5, 1): (t6_mean, t6_up, ZERO, t6_obs),
    (5, 2): (sbg6_mean, sbg6_up, ZERO, sbg6_obs),
    (5, 3): (ktn6_mean, ktn6_up, ZERO, ktn6_obs),
    (5, 4): (stmk6_mean, stmk6_up, ZERO, stmk6_obs),
    (5, 5): (noe6_mean, noe6_up, ZERO, noe6_obs),
    (5, 6): (ooe6_mean, ooe6_up, ZERO, ooe6_obs),
    (5, 7): (bgld6_mean, bgld6_up, ZERO, bgld6_obs),
    (6, 0): (vbg7_mean, vbg7_up, ZERO, vbg7_obs),
    (6, 1): (t7_mean, t7_up, ZERO, t7_obs),
    (6, 2): (sbg7_mean, sbg7_up, ZERO, sbg7_obs),
    (6, 3): (ktn7_mean, ktn7_up, ZERO, ktn7_obs),
    (6, 4): (stmk7_mean, stmk7_up, ZERO, stmk7_obs),
    (6, 5): (noe7_mean, noe7_up, ZERO, noe7_obs),
    (6, 6): (ooe7_mean, ooe7_up, ZERO, ooe7_obs),
    (6, 7): (bgld7_mean, bgld7_up, ZERO, bgld7_obs),
    (6, 8): (w7_mean, w7_up, ZERO, w7_obs),
}

# ---------------- drawing ----------------
FW, FH = 1787, 1144
fig = plt.figure(figsize=(FW / 100, FH / 100), dpi=100)
fig.patch.set_facecolor('white')

PX_LEFT, PX_TOP, PX_W, PX_H = 124, 56, 170, 123
STEP_X, STEP_Y = 187.5, 146

C_BG = '#F0F0F0'
C_BAND = '#FDD8D8'
C_EDGE = '#A0A0A0'
C_MEAN = '#E8736A'
C_OBS = '#1010C4'
C_TXT = '#222222'


def draw_status(ax, s):
    if s == 'r':
        for x0, x1 in ((0.708, 0.787), (0.816, 0.906)):
            ax.plot([x0, x1], [0.883, 0.883], transform=ax.transAxes,
                    color='#E00000', lw=4.8, solid_capstyle='butt', clip_on=False)
    elif s == 'o':
        ax.plot([0.828, 0.888], [0.883, 0.883], transform=ax.transAxes,
                color='#F5A300', lw=4.5, solid_capstyle='round', clip_on=False)
    elif s == 'n':
        ax.text(0.848, 0.872, 'O', transform=ax.transAxes, ha='center', va='center',
                fontsize=17, fontweight='bold', color='#707070')


for r in range(7):
    for c in range(9):
        left = (PX_LEFT + c * STEP_X) / FW
        bottom = 1 - (PX_TOP + r * STEP_Y + PX_H) / FH
        ax = fig.add_axes([left, bottom, PX_W / FW, PX_H / FH])
        ax.set_facecolor(C_BG)
        ax.set_xlim(0, 12)
        ax.set_ylim(0, Y_MAX[r])
        has = (r, c) in PANELS
        if has:
            mean, up, lo, obs = PANELS[(r, c)]
            ax.fill_between(XB, lo, up, color=C_BAND, lw=0, zorder=1)
            ax.plot(XB, up, color=C_EDGE, lw=0.8, zorder=2)
            ax.plot(XB, lo, color=C_EDGE, lw=0.8, zorder=2)
            ax.plot(XB, mean, color=C_MEAN, lw=2.3, zorder=3)
            ax.plot(XO, obs, color=C_OBS, lw=2.5, zorder=4)
            for sp in ax.spines.values():
                sp.set_color('black')
                sp.set_linewidth(1.6)
            ax.set_xticks(range(13))
            if r == 6:
                ax.set_xticklabels(MONTH_LABELS, rotation=90, fontsize=13, color=C_TXT)
            else:
                ax.set_xticklabels([])
            ax.tick_params(axis='x', direction='out', length=4, width=1, pad=2)
        else:
            for sp in ax.spines.values():
                sp.set_color('#A8A8A8')
                sp.set_linewidth(1.3)
            ax.set_xticks([])
        if c == 0:
            ax.spines['left'].set_color('black')
            ax.set_yticks(Y_TICKS[r])
            ax.set_yticklabels(Y_TICKLABELS[r], fontsize=13, color=C_TXT)
            ax.tick_params(axis='y', direction='out', length=4, width=1, pad=2)
        else:
            ax.set_yticks([])
        draw_status(ax, STATUS[r][c])

# column titles
for c, name in enumerate(REGIONS):
    xc = (PX_LEFT + c * STEP_X + PX_W / 2) / FW
    fig.text(xc, 1 - 23 / FH, name, ha='center', va='center', fontsize=19, color=C_TXT)

# row labels
for r, band in enumerate(BANDS):
    yc = 1 - (PX_TOP + r * STEP_Y + PX_H / 2) / FH
    fig.text(62 / FW, yc, band, ha='center', va='center', rotation=90,
             fontsize=14, color='#333333')

fig.text(25 / FW, 1 - 556 / FH, 'm ü.A.', ha='center', va='center', rotation=90,
         fontsize=18, fontweight='bold', color=C_TXT)
fig.text(960 / FW, 1 - 1131 / FH, 'Monat', ha='center', va='center',
         fontsize=18, fontweight='bold', color=C_TXT)

fig.savefig('out.png', dpi=100, facecolor='white')
